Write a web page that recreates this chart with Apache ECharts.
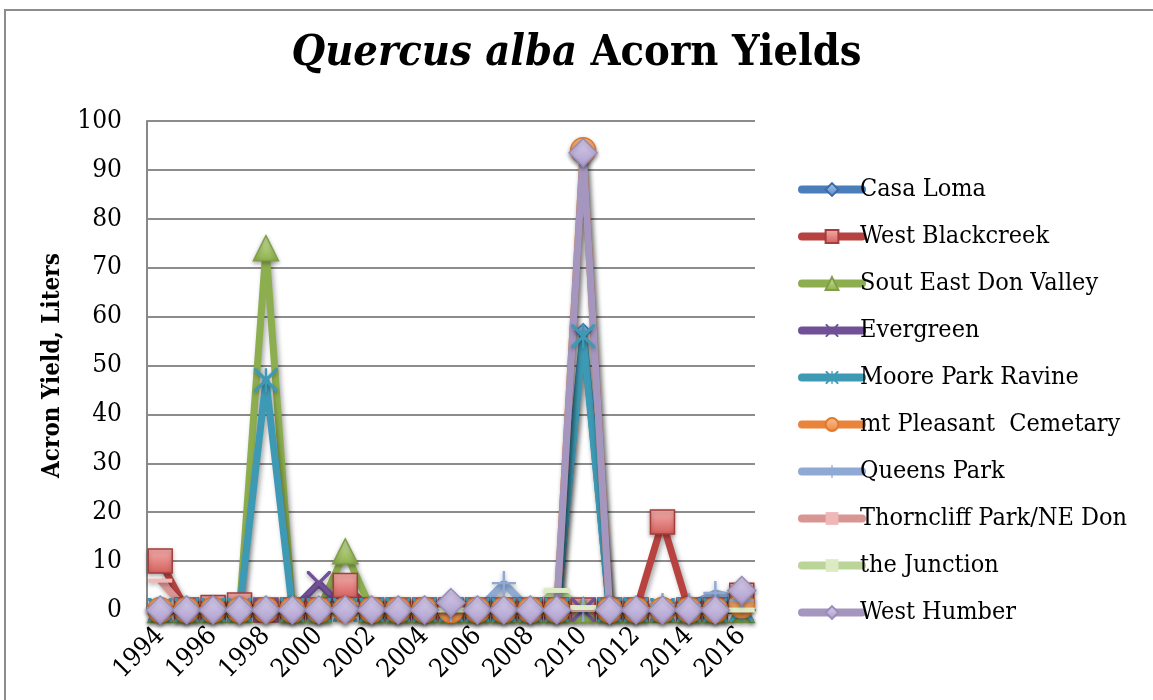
<!DOCTYPE html>
<html>
<head>
<meta charset="utf-8">
<title>Quercus alba Acorn Yields</title>
<script src="https://cdn.jsdelivr.net/npm/echarts@6/dist/echarts.min.js"></script>
<style>
  html, body { margin: 0; padding: 0; background: #fff; overflow: hidden; }
  #chart { width: 1153px; height: 700px; }
</style>
</head>
<body>
<div id="chart"></div>
<script>
// years on the category axis
const years = ["1994", "1995", "1996", "1997", "1998", "1999", "2000", "2001", "2002", "2003", "2004", "2005",
  "2006", "2007", "2008", "2009", "2010", "2011", "2012", "2013", "2014", "2015", "2016"];

// acorn yields per site, liters
const casaLoma       = [0, 0, 0, 0, 0, 0, 0, 0, 0, 0, 0, 0, 0, 0, 0, 0, 57, 0, 0, 0, 0, 0, 0];
const westBlackcreek = [10, 0, 0.5, 1, 0, 0, 0, 5, 0, 0, 0, 0, 0, 0, 0, 0, 0, 0, 0, 18, 0, 0, 3];
const soutEastDon    = [0, 0, 0, 0, 74, 0, 0, 12, 0, 0, 0, 0, 0, 0, 0, 0, 0, 0, 0, 0, 0, 0, 0];
const evergreen      = [0, 0, 0, 0, 0, 0, 5.5, 0, 0, 0, 0, 0, 0, 0, 0, 0, 0, 0, 0, 0, 0, 0, 0];
const moorePark      = [0, 0, 0, 0, 47, 0, 0, 0, 0, 0, 0, 0, 0, 0, 0, 0, 56, 0, 0, 0, 0, 0, 0];
const mtPleasant     = [0, 0, 0, 0, 0, 0, 0, 0, 0, 0, 0, 0, 0, 0, 0, 0, 94, 0, 0, 0, 0, 0, 1];
const queensPark     = [0, 0, 0, 0, 0, 0, 0, 0, 0, 0, 0, 0, 0, 5.5, 0, 0, 0, 0, 0, 1, 1, 3.5, 2];
const thorncliff     = [6, 0, 0, 0, 0, 0, 0, 0, 0, 0, 0, 0, 0, 0, 0, 0, 0, 0, 0, 0, 0, 0, 0];
const theJunction    = [0, 0, 0, 0, 0, 0, 0, 0, 0, 0, 0, 0, 0, 0, 0, 4, 0.5, 0, 0, 0, 0, 0, 0];
const westHumber     = [0, 0, 0, 0, 0, 0, 0, 0, 0, 0, 0, 1.5, 0, 0, 0, 0, 93.5, 0, 0, 0, 0, 0, 4];

const yTicks = { min: 0, max: 100, interval: 10 };

// marker shapes (Excel style x / star / plus)
const xPath = "path://M0,0 L2,0 L10,8 L18,0 L20,0 L20,2 L12,10 L20,18 L20,20 L18,20 L10,12 L2,20 L0,20 L0,18 L8,10 L0,2 Z";
const starPath = xPath.replace("path://", "path://M9,0 L11,0 L11,20 L9,20 Z ");
const plusPath = "path://M9,0 L11,0 L11,9 L20,9 L20,11 L11,11 L11,20 L9,20 L9,11 L0,11 L0,9 L9,9 Z";

const serif = "'DejaVu Serif Condensed', 'DejaVu Serif', 'Liberation Serif', serif";

const grad = (top, bottom) => new echarts.graphic.LinearGradient(0, 0, 0, 1, [
  { offset: 0, color: top },
  { offset: 1, color: bottom },
]);

const makeSeries = (name, data, line, symbol, size, fill, border) => ({
  name: name,
  type: "line",
  data: data,
  symbol: symbol,
  symbolSize: size,
  showAllSymbol: true,
  lineStyle: {
    color: line,
    width: 7,
    shadowColor: "rgba(0,0,0,0.35)",
    shadowBlur: 5,
    shadowOffsetX: 2,
    shadowOffsetY: 3,
  },
  itemStyle: {
    color: fill,
    borderColor: border,
    borderWidth: border ? 1.5 : 0,
    shadowColor: "rgba(0,0,0,0.3)",
    shadowBlur: 4,
    shadowOffsetY: 2,
  },
  emphasis: { disabled: true },
});

const series = [
  makeSeries("Casa Loma", casaLoma, "#4A7EBB", "diamond", 15, grad("#A9C6EC", "#5B8BCB"), "#3D6BA8"),
  makeSeries("West Blackcreek", westBlackcreek, "#B8423F", "rect", 24, grad("#F4AFAD", "#D35E5B"), "#A53D3A"),
  makeSeries("Sout East Don Valley", soutEastDon, "#8DAE4F", "triangle", 25, grad("#CFE6A6", "#8CB04A"), "#7F9E45"),
  makeSeries("Evergreen", evergreen, "#705096", xPath, 24, "#705096", null),
  makeSeries("Moore Park Ravine", moorePark, "#3E9AB4", starPath, 24, "#3E9AB4", null),
  makeSeries("mt Pleasant  Cemetary", mtPleasant, "#E9843A", "circle", 25, grad("#FCC395", "#EE8636"), "#DD7A2E"),
  makeSeries("Queens Park", queensPark, "#8EA9D3", plusPath, 24, "#8EA9D3", null),
  makeSeries("Thorncliff Park/NE Don", thorncliff, "#D79593", "rect", [24, 4], "#EFB7B5", null),
  makeSeries("the Junction", theJunction, "#BBD498", "rect", [26, 5], "#DCEBC4", null),
  makeSeries("West Humber", westHumber, "#A596BF", "diamond", 28, grad("#D9CFEE", "#AC9DCB"), "#9A8BB8"),
];

const chart = echarts.init(document.getElementById("chart"));

const option = {
  animation: false,
  backgroundColor: "#fff",
  title: {
    text: "{i|Quercus alba} Acorn Yields",
    left: "center",
    top: 27,
    textStyle: {
      fontFamily: serif,
      fontWeight: "bold",
      fontSize: 43,
      color: "#000",
      rich: {
        i: { fontFamily: serif, fontWeight: "bold", fontStyle: "italic", fontSize: 43, color: "#000" },
      },
    },
  },
  legend: {
    orient: "vertical",
    left: 798,
    top: 177,
    padding: 0,
    itemWidth: 60,
    itemHeight: 16,
    itemGap: 22,
    lineStyle: { width: 8, cap: "round" },
    textStyle: { fontFamily: serif, fontSize: 25, color: "#000", lineHeight: 25, padding: [0, 0, 0, -7] },
  },
  grid: {
    left: 147,
    right: 398,
    top: 121,
    bottom: 90,
  },
  xAxis: {
    type: "category",
    data: years,
    boundaryGap: true,
    axisLine: { show: true, lineStyle: { color: "#888", width: 2 } },
    axisTick: { show: false },
    axisLabel: {
      interval: 1,
      rotate: 45,
      margin: 22,
      fontFamily: serif,
      fontSize: 26,
      color: "#000",
    },
  },
  yAxis: {
    type: "value",
    min: yTicks.min,
    max: yTicks.max,
    interval: yTicks.interval,
    name: "Acron Yield, Liters",
    nameLocation: "middle",
    nameGap: 82,
    nameTextStyle: { fontFamily: serif, fontWeight: "bold", fontSize: 24, color: "#000" },
    axisLine: { show: true, lineStyle: { color: "#888", width: 2 } },
    axisTick: { show: false },
    axisLabel: { margin: 25, fontFamily: serif, fontSize: 26, color: "#000" },
    splitLine: { show: true, lineStyle: { color: "#8c8c8c", width: 2 } },
  },
  graphic: [
    {
      type: "polyline",
      shape: { points: [[5, 720], [5, 10], [1200, 10]] },
      style: { fill: "none", stroke: "#8c8c8c", lineWidth: 2 },
      silent: true,
      z: -1,
    },
  ],
  series: series,
};

chart.setOption(option);
</script>
</body>
</html>
